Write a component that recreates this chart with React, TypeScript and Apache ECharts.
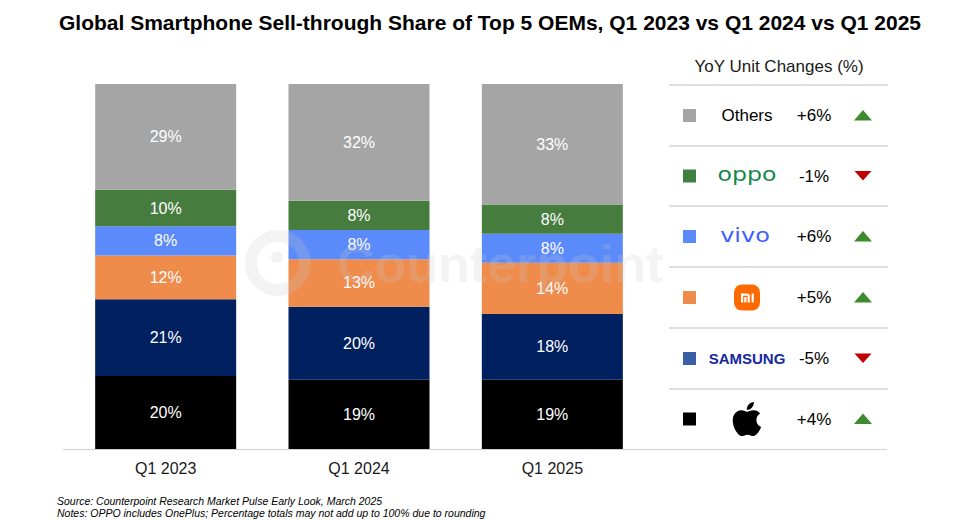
import React, { useEffect, useRef } from "react";
import * as echarts from "echarts";

const categories = ["Q1 2023", "Q1 2024", "Q1 2025"];
const appleShare = [20, 19, 19];
const samsungShare = [21, 20, 18];
const xiaomiShare = [12, 13, 14];
const vivoShare = [8, 8, 8];
const oppoShare = [10, 8, 8];
const othersShare = [29, 32, 33];

const tableBrands = ["Others", "OPPO", "vivo", "Xiaomi", "Samsung", "Apple"];
const yoyChanges = ["+6%", "-1%", "+6%", "+5%", "-5%", "+4%"];

const APPLE_D =
  "M12.152 6.896c-.948 0-2.415-1.078-3.96-1.04-2.04.027-3.91 1.183-4.961 3.014-2.117 3.675-.546 9.103 1.519 12.09 1.013 1.454 2.208 3.09 3.792 3.039 1.52-.065 2.09-.987 3.935-.987 1.831 0 2.35.987 3.96.948 1.637-.026 2.676-1.48 3.676-2.948 1.156-1.688 1.636-3.325 1.662-3.415-.039-.013-3.182-1.221-3.22-4.857-.026-3.04 2.48-4.494 2.597-4.559-1.429-2.09-3.623-2.324-4.39-2.376-2-.156-3.675 1.09-4.61 1.09zM15.53 3.83c.843-1.012 1.4-2.427 1.245-3.830-1.207.052-2.662.805-3.532 1.818-.78.896-1.454 2.338-1.273 3.714 1.338.104 2.715-.688 3.559-1.701";

let registered = false;
function registerShapes() {
  if (registered) return;
  echarts.graphic.registerShape("appleLogo", echarts.graphic.extendPath(APPLE_D, {}) as any);
  registered = true;
}

const FONT = "'Liberation Sans', Arial, sans-serif";

export default function App() {
  const ref = useRef<HTMLDivElement>(null);
  useEffect(() => {
    document.body.style.margin = "0";
    registerShapes();
    const chart = echarts.init(ref.current!, null, { renderer: "svg" });

    const barColors: Record<string, string> = {
      Apple: "#000000",
      Samsung: "#002060",
      Xiaomi: "#EF8B4B",
      vivo: "#5B8BFA",
      OPPO: "#477C3F",
      Others: "#A5A5A5",
    };
    const legendColors: Record<string, string> = {
      Others: "#A5A5A5",
      OPPO: "#3F7F3F",
      vivo: "#5B8BFA",
      Xiaomi: "#EF8B4B",
      Samsung: "#3A5FA5",
      Apple: "#000000",
    };

    const seriesDefs: [string, number[]][] = [
      ["Apple", appleShare],
      ["Samsung", samsungShare],
      ["Xiaomi", xiaomiShare],
      ["vivo", vivoShare],
      ["OPPO", oppoShare],
      ["Others", othersShare],
    ];

    const series = seriesDefs.map(([name, data]) => ({
      name,
      type: "bar",
      stack: "share",
      data,
      barWidth: 141,
      itemStyle: { color: barColors[name] },
      label: {
        show: true,
        position: "inside",
        formatter: "{c}%",
        color: "#FFFFFF",
        fontSize: 16,
        fontFamily: FONT,
      },
    }));

    const lineYs = [85, 146, 206, 267, 328, 389, 449];
    const graphics: any[] = [];
    lineYs.slice(0, 6).forEach((y) => {
      graphics.push({
        type: "line",
        shape: { x1: 669, y1: y, x2: 888, y2: y },
        style: { stroke: "#BFBFBF", lineWidth: 1 },
      });
    });
    graphics.push({
      type: "line",
      shape: { x1: 63, y1: 449.5, x2: 887, y2: 449.5 },
      style: { stroke: "#D0D0D0", lineWidth: 1 },
      z: 0,
    });
    graphics.push({
      type: "text",
      x: 779,
      y: 66,
      style: {
        text: "YoY Unit Changes (%)",
        fontSize: 17,
        fontFamily: FONT,
        fill: "#1A1A1A",
        textAlign: "center",
        textVerticalAlign: "middle",
      },
    });

    tableBrands.forEach((brand, i) => {
      const cy = (lineYs[i] + lineYs[i + 1]) / 2;
      graphics.push({
        type: "rect",
        shape: { x: 683, y: cy - 6.5, width: 13, height: 13 },
        style: { fill: legendColors[brand] },
      });
      if (brand === "Others") {
        graphics.push({
          type: "text",
          x: 747,
          y: cy,
          style: {
            text: "Others",
            fontSize: 17,
            fontFamily: FONT,
            fill: "#000",
            textAlign: "center",
            textVerticalAlign: "middle",
          },
        });
      } else if (brand === "OPPO") {
        graphics.push({
          type: "text",
          x: 747,
          y: cy - 2,
          scaleX: 1.18,
          style: {
            text: "oppo",
            fontSize: 20,
            fontFamily: "'DejaVu Sans', sans-serif",
            fill: "#14894A",
            textAlign: "center",
            textVerticalAlign: "middle",
          },
        });
      } else if (brand === "vivo") {
        graphics.push({
          type: "text",
          x: 745,
          y: cy - 2,
          scaleX: 1.2,
          style: {
            text: "vivo",
            fontSize: 20,
            fontFamily: "'DejaVu Sans', sans-serif",
            fill: "#415FFF",
            textAlign: "center",
            textVerticalAlign: "middle",
          },
        });
      } else if (brand === "Xiaomi") {
        const lx = 734;
        const ty = cy - 13;
        graphics.push({
          type: "rect",
          shape: { x: lx, y: ty, width: 26, height: 26, r: 8 },
          style: { fill: "#FF6A00" },
        });
        const bars = [
          { x: 7, y: 9, width: 2.2, height: 9, r: 0 },
          { x: 7, y: 9, width: 8, height: 2.2, r: [0, 3, 0, 0] },
          { x: 13.6, y: 10, width: 2.2, height: 8, r: 0 },
          { x: 10.3, y: 12.5, width: 2.2, height: 5.5, r: 0 },
          { x: 17.6, y: 9, width: 2.2, height: 9, r: 0 },
        ];
        bars.forEach((b) => {
          graphics.push({
            type: "rect",
            shape: { x: lx + b.x, y: ty + b.y, width: b.width, height: b.height, r: b.r },
            style: { fill: "#FFFFFF" },
          });
        });
      } else if (brand === "Samsung") {
        graphics.push({
          type: "text",
          x: 747,
          y: cy,
          style: {
            text: "SAMSUNG",
            fontSize: 15,
            fontWeight: "bold",
            fontFamily: FONT,
            fill: "#1428A0",
            textAlign: "center",
            textVerticalAlign: "middle",
          },
        });
      } else if (brand === "Apple") {
        graphics.push({
          type: "appleLogo",
          x: 729.5,
          y: cy - 17,
          scaleX: 1.45,
          scaleY: 1.42,
          style: { fill: "#000000" },
        });
      }
      const val = yoyChanges[i];
      graphics.push({
        type: "text",
        x: 814,
        y: cy,
        style: {
          text: val,
          fontSize: 17,
          fontFamily: FONT,
          fill: "#000",
          textAlign: "center",
          textVerticalAlign: "middle",
        },
      });
      const up = val.startsWith("+");
      graphics.push({
        type: "polygon",
        shape: {
          points: up
            ? [
                [854, cy + 5],
                [872, cy + 5],
                [863, cy - 5.5],
              ]
            : [
                [854.5, cy - 5],
                [871.5, cy - 5],
                [863, cy + 4.5],
              ],
        },
        style: { fill: up ? "#3E8B2E" : "#C00000" },
      });
    });

    const footStyle = {
      fontSize: 10.5,
      fontStyle: "italic",
      fontFamily: FONT,
      fill: "#000",
      textVerticalAlign: "middle",
    };
    graphics.push({
      type: "text",
      x: 57,
      y: 501,
      style: { ...footStyle, text: "Source: Counterpoint Research Market Pulse Early Look, March 2025" },
    });
    graphics.push({
      type: "text",
      x: 57,
      y: 513,
      style: {
        ...footStyle,
        text: "Notes: OPPO includes OnePlus; Percentage totals may not add up to 100% due to rounding",
      },
    });

    // watermark, drawn over the bars
    const wm = "rgba(200,200,200,0.22)";
    graphics.push({
      type: "ring",
      z: 100,
      silent: true,
      shape: { cx: 278, cy: 263, r: 33, r0: 21 },
      style: { fill: wm },
    });
    graphics.push({
      type: "circle",
      z: 100,
      silent: true,
      shape: { cx: 277, cy: 257, r: 6 },
      style: { fill: wm },
    });
    graphics.push({
      type: "text",
      z: 100,
      silent: true,
      x: 337,
      y: 264,
      style: {
        text: "Counterpoint",
        fontSize: 52,
        fontWeight: "bold",
        fontFamily: FONT,
        fill: wm,
        textVerticalAlign: "middle",
      },
    });

    chart.setOption({
      animation: false,
      backgroundColor: "#FFFFFF",
      title: {
        text: "Global Smartphone Sell-through Share of Top 5 OEMs, Q1 2023 vs Q1 2024 vs Q1 2025",
        left: 485,
        top: 7,
        textAlign: "center",
        textStyle: {
          fontSize: 21,
          fontWeight: "bold",
          fontFamily: FONT,
          color: "#000",
        },
      },
      grid: { left: 69, right: 311, top: 84, bottom: 71 },
      xAxis: {
        type: "category",
        data: categories,
        axisTick: { show: false },
        axisLine: { show: true, lineStyle: { color: "#D0D0D0" } },
        axisLabel: { fontSize: 16, color: "#1A1A1A", fontFamily: FONT, margin: 11 },
      },
      yAxis: { type: "value", min: 0, max: 100, show: false },
      series,
      graphic: graphics,
    });
    return () => chart.dispose();
  }, []);
  return <div ref={ref} style={{ width: 960, height: 520 }} />;
}
